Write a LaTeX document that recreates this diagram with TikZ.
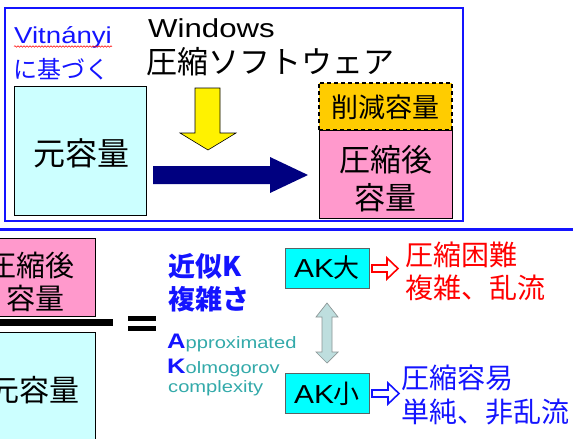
\documentclass[tikz,border=0pt]{standalone}
\usepackage{fontspec}
\setmainfont{Liberation Sans}
\newfontfamily\jp{Noto Sans CJK JP}
\usetikzlibrary{decorations.pathmorphing}
\definecolor{mblue}{RGB}{20,20,255}
\definecolor{lcyan}{RGB}{204,255,255}
\definecolor{pinkbox}{RGB}{255,153,204}
\definecolor{goldbox}{RGB}{255,204,0}
\definecolor{navyarr}{RGB}{0,0,128}
\definecolor{tealtxt}{RGB}{51,170,170}
\definecolor{akcyan}{RGB}{0,255,255}
\definecolor{darr}{RGB}{190,222,222}
\definecolor{darrline}{RGB}{140,150,150}
\definecolor{akline}{RGB}{90,100,100}
\definecolor{redtxt}{RGB}{255,0,0}
\newcommand{\lat}[1]{\scalebox{1.2}[1]{#1}}
\newcommand{\fs}[1]{\fontsize{#1}{#1}\selectfont}
\begin{document}
\begin{tikzpicture}[x=1pt,y=-1pt,
  box/.style={draw=black,line width=1pt,inner sep=0pt},
  dashbox/.style={draw=black,line width=1.5pt,dash pattern=on 4pt off 3pt,inner sep=0pt},
  txt/.style={inner sep=0pt},
  akbox/.style={draw=akline,line width=0.8pt,fill=akcyan,minimum width=84pt,minimum height=40pt,inner sep=0pt}]
\useasboundingbox (0,0) rectangle (573,439);
\clip (0,0) rectangle (573,439);
\fill[white] (0,0) rectangle (573,439);
% top frame
\draw[mblue,line width=2.5pt] (5,8) rectangle (463,221);
\draw[mblue,line width=2.5pt] (0,229.5) -- (573,229.5);
% top left box
\node[box,fill=lcyan,minimum width=132pt,minimum height=129pt] (orig) at (80,150.5) {};
\node[txt] (origt) at (81,153) {\jp\fs{32}元容量};
% labels
\node[txt,anchor=base west,text=mblue] (vit) at (14,43) {\fs{23}\lat{Vitnányi}};
\draw[red,line width=0.5pt,decorate,decoration={snake,amplitude=0.8pt,segment length=3pt}] (14,46.5) -- (112,46.5);
\node[txt,anchor=west,text=mblue] (kizu) at (13,69) {\jp\fs{24}に基づく};
\node[txt,anchor=base west] (win) at (148,37) {\fs{26}\lat{Windows}};
\node[txt,anchor=west] (soft) at (146,62) {\jp\fs{31}圧縮ソフトウェア};
% yellow arrow
\draw[black,line width=0.6pt,fill=yellow] (195,88) -- (220,88) -- (220,133) -- (236,133) -- (208,150) -- (180,133) -- (195,133) -- cycle;
% navy arrow
\fill[navyarr] (153,166) -- (270,166) -- (270,157) -- (308,175) -- (270,193) -- (270,184) -- (153,184) -- cycle;
% right stack
\node[inner sep=0pt,fill=goldbox,minimum width=133pt,minimum height=47pt] (red) at (385.5,106.5) {};
\node[txt] (redt) at (385.5,107) {\jp\fs{27}削減容量};
\node[box,fill=pinkbox,minimum width=133pt,minimum height=88pt] (comp) at (385.5,174) {};
\node[txt] (comp1) at (385.5,160) {\jp\fs{31}圧縮後};
\node[txt] (comp2) at (385.5,198) {\jp\fs{31}容量};
\draw[dashbox] (red.south west) rectangle (red.north east);
% bottom fraction
\node[box,fill=pinkbox,minimum width=126pt,minimum height=78pt] (bcomp) at (32,277) {};
\node[txt] (bcomp1) at (31,265) {\jp\fs{29}圧縮後};
\node[txt] (bcomp2) at (35,298) {\jp\fs{29}容量};
\fill[black] (0,319) rectangle (113,326);
\node[box,fill=lcyan,minimum width=126pt,minimum height=118pt] (borig) at (32,391) {};
\node[txt] (borigt) at (35,390) {\jp\fs{30}元容量};
% equals
\fill[black] (128,316) rectangle (156,321);
\fill[black] (128,326) rectangle (156,331);
% approx K
\node[txt,anchor=west,text=mblue] (kinji) at (168,266) {\jp\bfseries\fs{27}近似K};
\node[txt,anchor=west,text=mblue] (fuku) at (168,299) {\jp\bfseries\fs{27}複雑さ};
\node[txt,anchor=base west] (appr) at (167,348) {\scalebox{1.22}[1]{\textcolor{mblue}{\fs{21}\bfseries A}\textcolor{tealtxt}{\fs{16.5}pproximated}}};
\node[txt,anchor=base west] (kolm) at (167,373) {\scalebox{1.22}[1]{\textcolor{mblue}{\fs{21}\bfseries K}\textcolor{tealtxt}{\fs{16.5}olmogorov}}};
\node[txt,anchor=base west] (cplx) at (168,392) {\scalebox{1.22}[1]{\textcolor{tealtxt}{\fs{16.5}complexity}}};
% AK boxes
\node[akbox] (akbig) at (327,268) {\scalebox{1.15}[1]{\fs{26}AK}{\jp\fs{26}大}};
\node[akbox] (aksmall) at (327,393.5) {\scalebox{1.15}[1]{\fs{26}AK}{\jp\fs{26}小}};
% double arrow
\draw[darrline,line width=0.7pt,fill=darr]
  (327,303) -- (338,317) -- (332,317) -- (332,352) -- (338,352) -- (327,363) -- (316,352) -- (322,352) -- (322,317) -- (316,317) -- cycle;
% open arrows
\draw[redtxt,line width=1.6pt,fill=white]
  (372,265) -- (387,265) -- (387,258) -- (398,268.5) -- (387,279) -- (387,272) -- (372,272) -- cycle;
\draw[mblue,line width=1.6pt,fill=white]
  (372,390) -- (388,390) -- (388,383) -- (399,393.5) -- (388,404) -- (388,397) -- (372,397) -- cycle;
% result texts
\node[txt,anchor=west,text=redtxt] (hard1) at (405,255) {\jp\fs{28}圧縮困難};
\node[txt,anchor=west,text=redtxt] (hard2) at (405,288) {\jp\fs{28}複雑、乱流};
\node[txt,anchor=west,text=mblue] (easy1) at (401,378) {\jp\fs{28}圧縮容易};
\node[txt,anchor=west,text=mblue] (easy2) at (401,412) {\jp\fs{28}単純、非乱流};
\end{tikzpicture}
\end{document}
